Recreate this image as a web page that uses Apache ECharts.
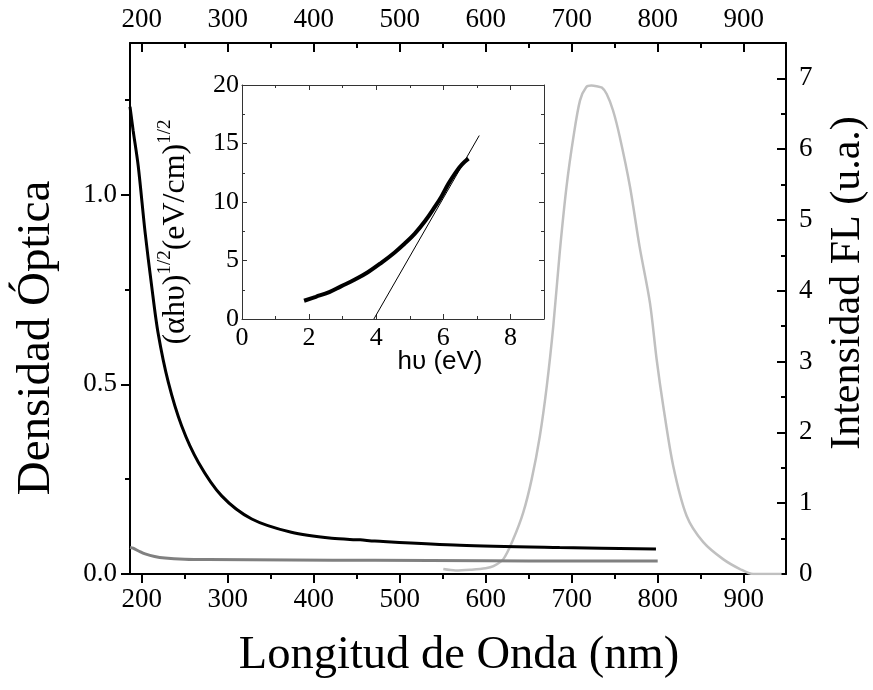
<!DOCTYPE html>
<html><head><meta charset="utf-8">
<script src="https://cdn.jsdelivr.net/npm/echarts@6/dist/echarts.min.js"></script>
<style>html,body{margin:0;padding:0;background:#fff}#c{width:873px;height:690px}</style>
</head><body><div id="c"></div>
<script>
// ---- data ----
const absWl    = [186.4, 190, 196, 204, 211.6, 219, 231, 246.5, 266, 293, 328, 374, 421, 454, 471, 570, 686, 798];
const absBlack = [1.232, 1.17, 1.075, 0.90, 0.759, 0.636, 0.505, 0.39, 0.294, 0.206, 0.145, 0.11, 0.094, 0.090, 0.087, 0.076, 0.070, 0.066];
const grayWl   = [186.4, 190, 197, 204, 215, 227, 250, 277, 374, 471, 600, 700, 800];
const absGray  = [0.070, 0.068, 0.060, 0.053, 0.046, 0.042, 0.039, 0.038, 0.037, 0.036, 0.035, 0.034, 0.034];
const plWl  = [550.7, 565, 582, 600, 609, 620.5, 632, 643.7, 653.5, 663, 671, 678.6, 686, 694, 702, 709.7, 717, 723, 729, 735, 740.7, 748, 756, 767.8, 779, 791, 798.8, 806.5, 818, 833.7, 853, 876, 895.7, 911, 925, 944];
const plVal = [0.07, 0.05, 0.06, 0.08, 0.11, 0.21, 0.49, 0.87, 1.34, 1.95, 2.65, 3.5, 4.53, 5.47, 6.17, 6.69, 6.88, 6.9, 6.89, 6.87, 6.78, 6.55, 6.17, 5.47, 4.62, 3.83, 3.03, 2.37, 1.53, 0.82, 0.45, 0.21, 0.07, 0.0, 0.0, 0.0];
const insetE = [1.85, 2.2, 2.6, 2.95, 3.35, 3.75, 4.15, 4.55, 4.85, 5.15, 5.45, 5.75, 5.95, 6.15, 6.35, 6.55, 6.75];
const insetY = [1.56, 1.9, 2.3, 2.79, 3.35, 4.0, 4.8, 5.69, 6.45, 7.3, 8.35, 9.6, 10.5, 11.55, 12.45, 13.2, 13.7];
const fitE = [3.93, 7.07];
const fitY = [0, 15.68];
// ---- ticks ----
const xMajor = [200, 300, 400, 500, 600, 700, 800, 900];
const xMinor = [250, 350, 450, 550, 650, 750, 850];
const leftMajor = [0, 0.5, 1.0];
const leftMinor = [0.25, 0.75, 1.25];
const rightMajor = [0, 1, 2, 3, 4, 5, 6, 7];
const rightMinor = [0.5, 1.5, 2.5, 3.5, 4.5, 5.5, 6.5];
const inXMajor = [0, 2, 4, 6, 8];
const inXMinor = [1, 3, 5, 7];
const inYMajor = [0, 5, 10, 15, 20];
const inYMinor = [2.5, 7.5, 12.5, 17.5];

const SERIF = '"Liberation Serif","Times New Roman",serif';
const SANS = '"Liberation Sans",Arial,sans-serif';
const XMIN = 186.4, XMAX = 949.2;

function axis(o) {
  return {
    type: 'value', gridIndex: o.grid, position: o.pos, min: o.min, max: o.max,
    axisLine: { show: !!o.line, onZero: false, lineStyle: { color: o.color || '#000', width: o.lw || 2 } },
    axisTick: { show: true, inside: !!o.inside, length: o.tl, customValues: o.ticks,
      lineStyle: { color: o.color || '#000', width: o.tw || 2 } },
    axisLabel: o.labels ? { show: true, customValues: o.labels, margin: o.margin, fontSize: o.fs,
      fontFamily: SERIF, color: '#000', formatter: o.fmt } : { show: false },
    splitLine: { show: false }, minorTick: { show: false }, axisPointer: { show: false }
  };
}

// rotated inset y-axis title with superscripts (laid out in local, unrotated coords)
const mc = document.createElement('canvas').getContext('2d');
function tw(t, f) { mc.font = f + 'px "Liberation Serif"'; return mc.measureText(t).width; }
const MF = 32, SF = 19, SUPDY = -11;
const parts = [['(αhυ)', MF], ['1/2', SF], ['(eV/cm)', MF], ['1/2', SF]];
const W = parts.reduce((s, p) => s + tw(p[0], p[1]), 0);
let cur = -W / 2;
const labelChildren = parts.map(p => {
  const el = { type: 'text', x: cur, y: p[1] === SF ? SUPDY : 0,
    style: { text: p[0], fontSize: p[1], fontFamily: SERIF, fill: '#000', align: 'left', verticalAlign: 'middle' } };
  cur += tw(p[0], p[1]);
  return el;
});

const chart = echarts.init(document.getElementById('c'), null, { renderer: 'canvas' });
chart.setOption({
  animation: false,
  backgroundColor: '#fff',
  grid: [
    { left: 130, right: 87, top: 43, bottom: 116, containLabel: false, outerBoundsMode: 'none' },
    { left: 242, top: 85, width: 302, height: 234, containLabel: false, outerBoundsMode: 'none' }
  ],
  xAxis: [
    axis({ grid: 0, pos: 'bottom', min: XMIN, max: XMAX, line: true, tl: 9, ticks: xMajor, labels: xMajor, margin: 12, fs: 27 }),
    axis({ grid: 0, pos: 'top', min: XMIN, max: XMAX, line: true, inside: true, tl: 9, ticks: xMajor, labels: xMajor, margin: 10, fs: 27 }),
    axis({ grid: 0, pos: 'bottom', min: XMIN, max: XMAX, tl: 5, ticks: xMinor }),
    axis({ grid: 0, pos: 'top', min: XMIN, max: XMAX, inside: true, tl: 5, ticks: xMinor }),
    axis({ grid: 1, pos: 'bottom', min: 0, max: 9, line: true, lw: 1, tw: 1, color: '#333', inside: true, tl: 5, ticks: inXMajor, labels: inXMajor, margin: 6, fs: 26 }),
    axis({ grid: 1, pos: 'top', min: 0, max: 9, line: true, lw: 1, tw: 1, color: '#333', inside: true, tl: 5, ticks: inXMajor }),
    axis({ grid: 1, pos: 'bottom', min: 0, max: 9, tw: 1, color: '#333', inside: true, tl: 3, ticks: inXMinor }),
    axis({ grid: 1, pos: 'top', min: 0, max: 9, tw: 1, color: '#333', inside: true, tl: 3, ticks: inXMinor })
  ],
  yAxis: [
    axis({ grid: 0, pos: 'left', min: 0, max: 1.4, line: true, tl: 9, ticks: leftMajor, labels: leftMajor, margin: 13, fs: 27, fmt: v => v.toFixed(1) }),
    axis({ grid: 0, pos: 'right', min: 0, max: 7.5, line: true, inside: true, tl: 9, ticks: rightMajor, labels: rightMajor, margin: 13, fs: 27 }),
    axis({ grid: 0, pos: 'left', min: 0, max: 1.4, tl: 5, ticks: leftMinor }),
    axis({ grid: 0, pos: 'right', min: 0, max: 7.5, inside: true, tl: 5, ticks: rightMinor }),
    axis({ grid: 1, pos: 'left', min: 0, max: 20, line: true, lw: 1, tw: 1, color: '#333', inside: true, tl: 5, ticks: inYMajor, labels: inYMajor, margin: 3, fs: 26 }),
    axis({ grid: 1, pos: 'right', min: 0, max: 20, line: true, lw: 1, tw: 1, color: '#333', inside: true, tl: 5, ticks: inYMajor }),
    axis({ grid: 1, pos: 'left', min: 0, max: 20, tw: 1, color: '#333', inside: true, tl: 3, ticks: inYMinor }),
    axis({ grid: 1, pos: 'right', min: 0, max: 20, tw: 1, color: '#333', inside: true, tl: 3, ticks: inYMinor })
  ],
  series: [
    { type: 'line', xAxisIndex: 0, yAxisIndex: 1, data: plWl.map((w, i) => [w, plVal[i]]),
      symbol: 'none', smooth: 0.3, lineStyle: { color: '#c0c0c0', width: 2.5 }, z: 2 },
    { type: 'line', xAxisIndex: 0, yAxisIndex: 0, data: absWl.map((w, i) => [w, absBlack[i]]),
      symbol: 'none', smooth: 0.3, lineStyle: { color: '#000', width: 3 }, z: 3 },
    { type: 'line', xAxisIndex: 0, yAxisIndex: 0, data: grayWl.map((w, i) => [w, absGray[i]]),
      symbol: 'none', smooth: 0.3, lineStyle: { color: '#808080', width: 3 }, z: 4 },
    { type: 'line', xAxisIndex: 4, yAxisIndex: 4, data: insetE.map((e, i) => [e, insetY[i]]),
      symbol: 'none', smooth: 0.4, lineStyle: { color: '#000', width: 4 }, z: 5 },
    { type: 'line', xAxisIndex: 4, yAxisIndex: 4, data: fitE.map((e, i) => [e, fitY[i]]),
      symbol: 'none', lineStyle: { color: '#000', width: 1 }, z: 5 }
  ],
  graphic: [
    { type: 'text', x: 459, y: 656, style: { text: 'Longitud de Onda (nm)', fontSize: 46.5, fontFamily: SERIF, fill: '#000', align: 'center', verticalAlign: 'middle' } },
    { type: 'text', x: 37, y: 338, rotation: Math.PI / 2, style: { text: 'Densidad Óptica', fontSize: 47, fontFamily: SERIF, fill: '#000', align: 'center', verticalAlign: 'middle' } },
    { type: 'text', x: 848, y: 283, rotation: Math.PI / 2, style: { text: 'Intensidad FL (u.a.)', fontSize: 42, fontFamily: SERIF, fill: '#000', align: 'center', verticalAlign: 'middle' } },
    { type: 'text', x: 440, y: 362, style: { text: 'hυ (eV)', fontSize: 26, fontFamily: SANS, fill: '#000', align: 'center', verticalAlign: 'middle' } },
    { type: 'group', x: 176, y: 232, rotation: Math.PI / 2, children: labelChildren }
  ]
});
</script></body></html>
